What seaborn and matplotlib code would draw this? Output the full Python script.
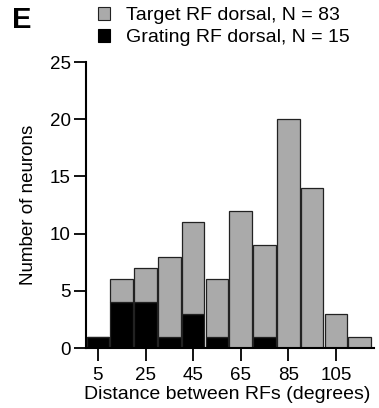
import numpy as np
import pandas as pd
import seaborn as sns
import matplotlib
matplotlib.use("Agg")
import matplotlib.pyplot as plt
from matplotlib.patches import Patch

# Data (bin centres in degrees, counts per bin)
bin_centers = [5, 15, 25, 35, 45, 55, 65, 75, 85, 95, 105, 115]
target_counts = [0, 2, 3, 7, 8, 5, 12, 8, 20, 14, 3, 1]
grating_counts = [1, 4, 4, 1, 3, 1, 0, 1, 0, 0, 0, 0]
group_labels = ["Target RF dorsal, N = 83", "Grating RF dorsal, N = 15"]
x_ticks = [5, 25, 45, 65, 85, 105]
y_ticks = [0, 5, 10, 15, 20, 25]

df = pd.concat([
    pd.DataFrame({"distance": bin_centers, "count": target_counts, "group": group_labels[0]}),
    pd.DataFrame({"distance": bin_centers, "count": grating_counts, "group": group_labels[1]}),
], ignore_index=True)

sns.set_style("ticks")
plt.rcParams["font.family"] = ["Liberation Sans", "DejaVu Sans"]
for k in ["text.color", "axes.labelcolor", "xtick.color", "ytick.color", "axes.edgecolor"]:
    plt.rcParams[k] = "black"

fig = plt.figure(figsize=(3.79, 4.08), dpi=100)
ax = fig.add_axes([0.227, 0.147, 0.76, 0.701])

colors = {group_labels[0]: "#aaaaaa", group_labels[1]: "#000000"}
sns.histplot(data=df, x="distance", weights="count", hue="group",
             hue_order=[group_labels[0], group_labels[1]],
             multiple="stack", binwidth=10, binrange=(0, 120), palette=colors,
             alpha=1, edgecolor="#222222", linewidth=0.9, shrink=0.95,
             legend=False, ax=ax)

ax.set_xlim(0, 121)
ax.set_ylim(0, 25)
ax.set_xticks(x_ticks)
ax.set_yticks(y_ticks)
ax.tick_params(axis="both", labelsize=13.5, width=1.3, length=9, direction="out", pad=2)
ax.tick_params(axis="x", pad=5)
for s in ["top", "right"]:
    ax.spines[s].set_visible(False)
for s in ["left", "bottom"]:
    ax.spines[s].set_linewidth(1.5)
ax.spines["left"].set_bounds(0, 25)
ax.set_xlabel("Distance between RFs (degrees)", fontsize=14, labelpad=1)
ax.xaxis.set_label_coords(0.49, -0.132, transform=ax.transAxes)
ax.xaxis.label.set_va("top")
ax.set_ylabel("Number of neurons", fontsize=13.5, labelpad=9)

handles = [Patch(facecolor="#aaaaaa", edgecolor="#222222", linewidth=0.8),
           Patch(facecolor="#000000", edgecolor="#000000", linewidth=0.8)]
fig.legend(handles, group_labels, loc="upper left", bbox_to_anchor=(98 / 379, 1 - 7 / 408),
           frameon=False, fontsize=14, handlelength=0.62, handleheight=0.62,
           handletextpad=0.8, labelspacing=0.25, borderaxespad=0, borderpad=0)

fig.text(12 / 379, 1 - 6 / 408, "E", fontsize=21, fontweight="bold", va="top", ha="left")

fig.savefig("out.png", dpi=100)
